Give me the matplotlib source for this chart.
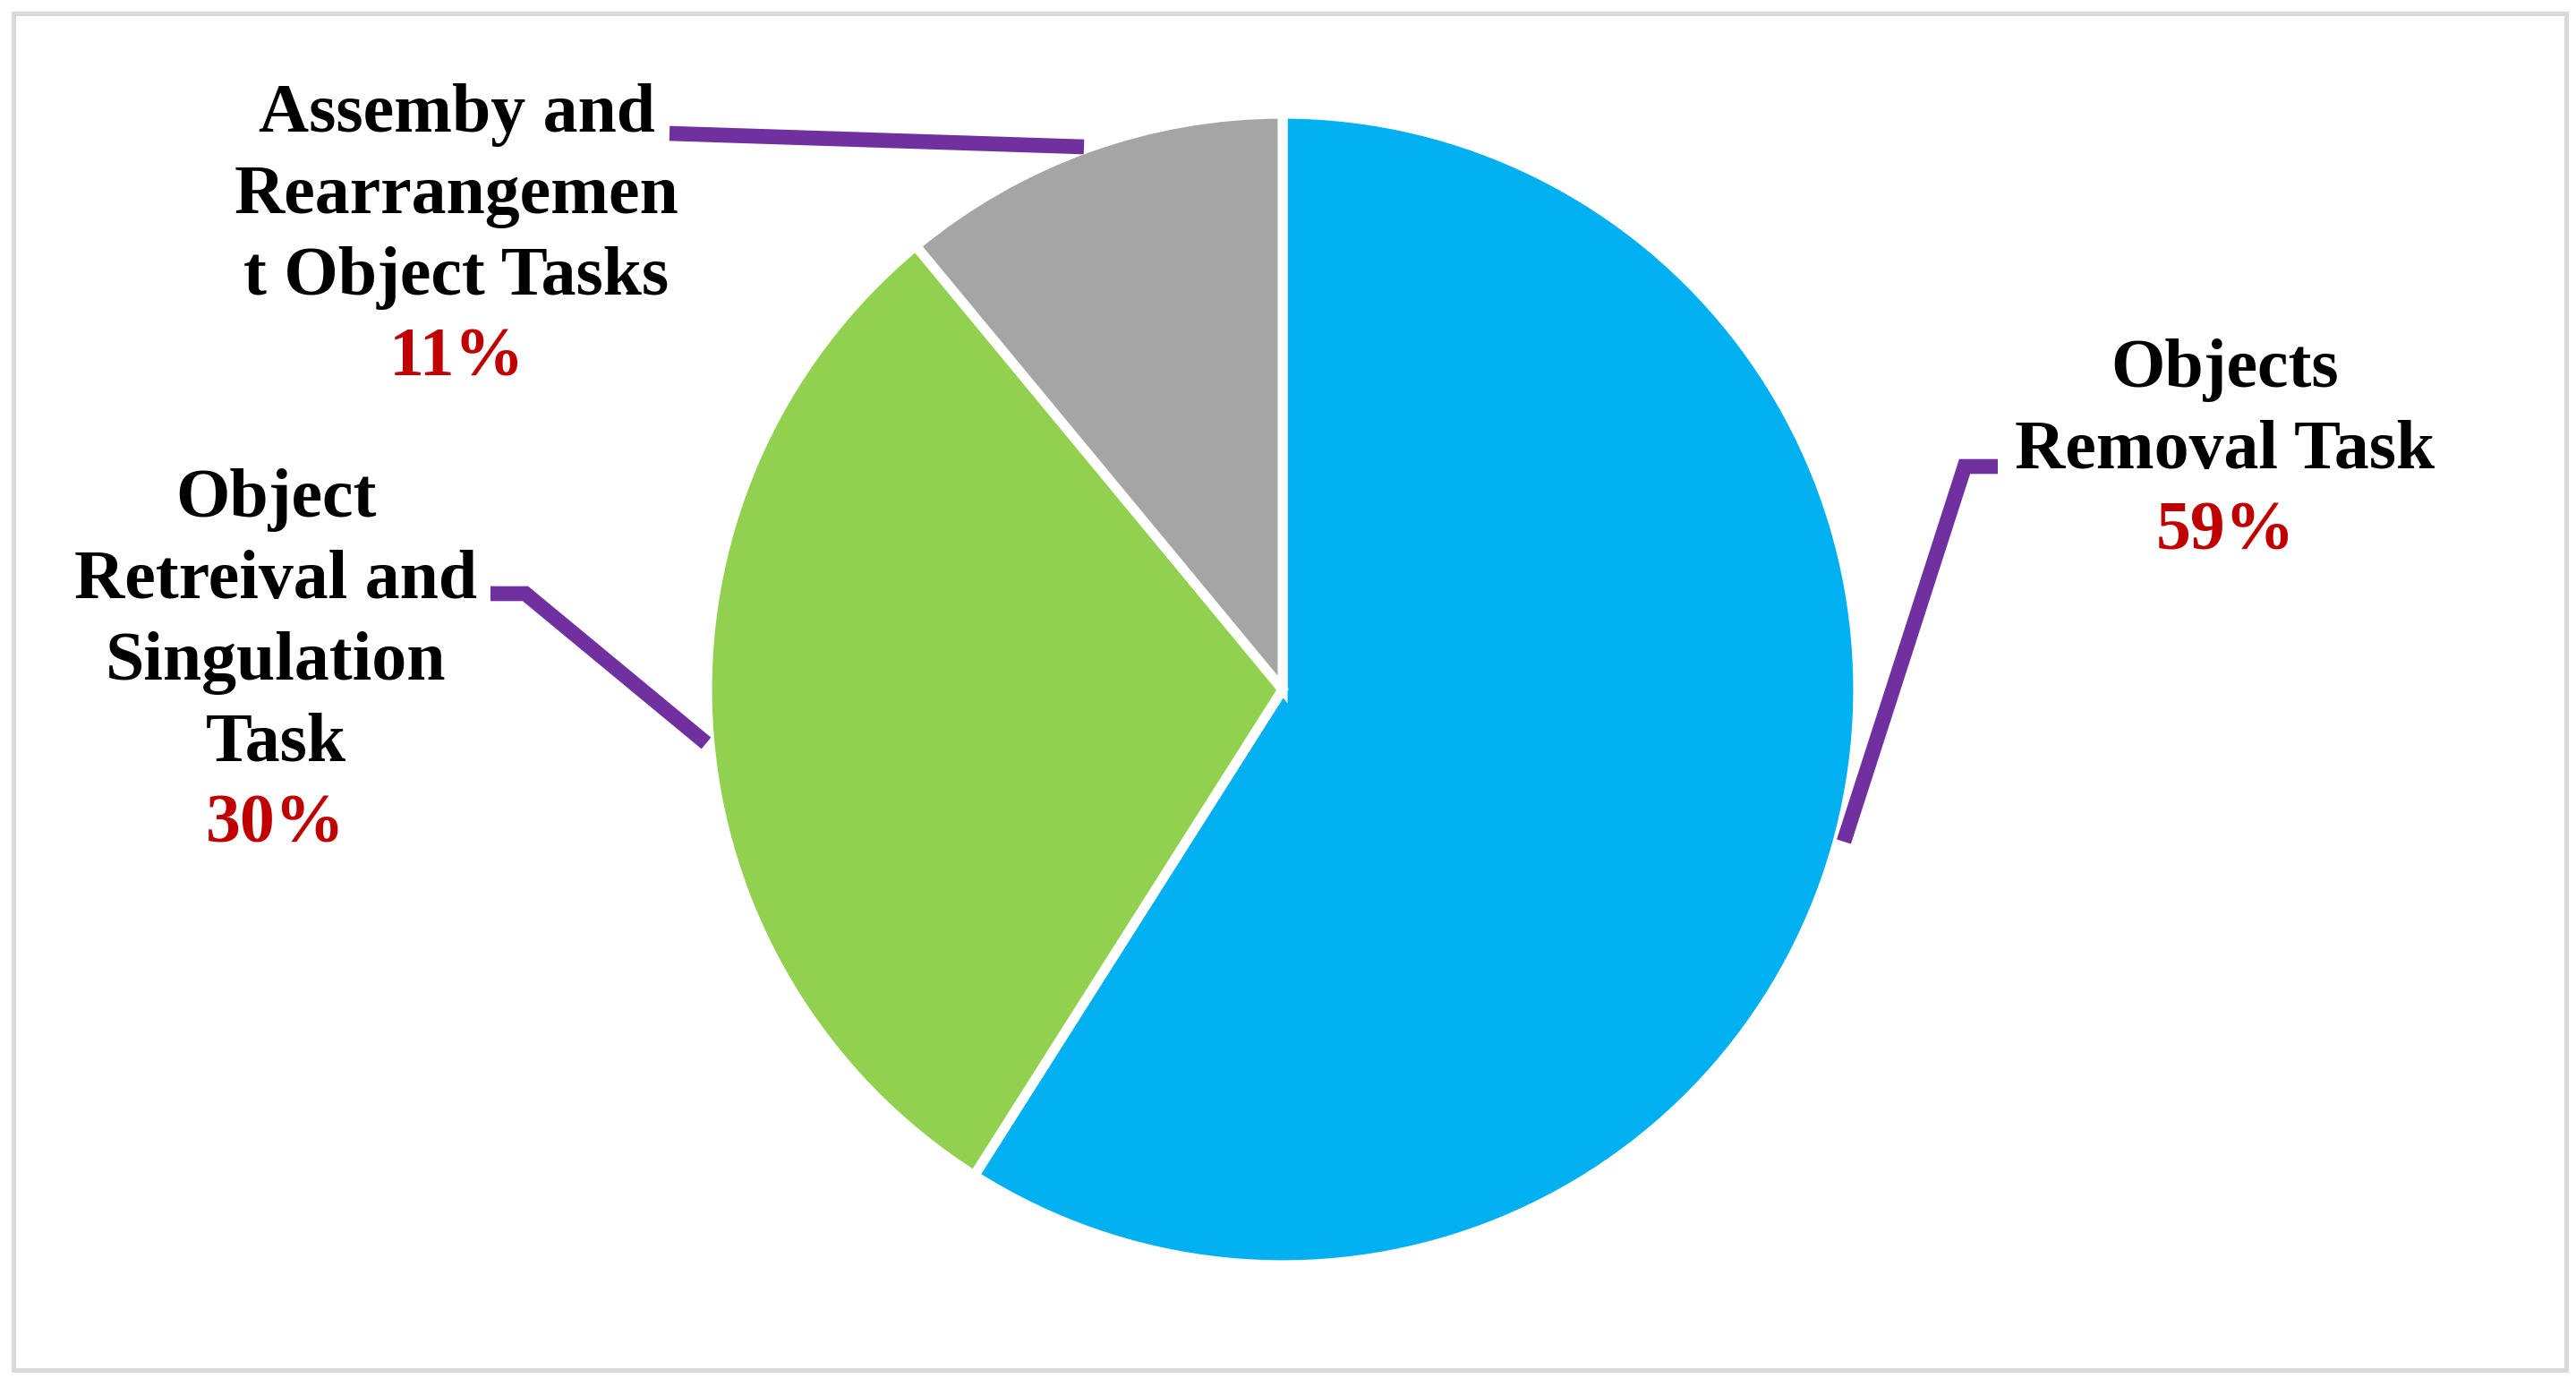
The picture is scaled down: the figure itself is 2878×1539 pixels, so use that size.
import matplotlib
matplotlib.use("Agg")
import matplotlib.pyplot as plt
from matplotlib.patches import Rectangle

# ---- data ----
categories = ["Objects\nRemoval Task",
              "Object\nRetreival and\nSingulation\nTask",
              "Assemby and\nRearrangemen\nt Object Tasks"]
values = [59, 30, 11]
pct_labels = ["59%", "30%", "11%"]
colors = ["#00B0F0", "#92D050", "#A5A5A5"]

# ---- layout (pixel space of the 2878x1539 canvas, y measured from top) ----
W, H = 2878, 1539
DPI = 100
cx, cy, R = 1433, 770, 643
label_pos = [  # (center x, first baseline y, line step)
    (2486, 432, 90.5),
    (308, 577, 90.8),
    (510, 147, 91.0),
]
leaders = [
    [(2060, 940), (2195, 521), (2232, 521)],
    [(789, 830), (587, 663), (548, 663)],
    [(1211, 164), (748, 149)],
]

fig = plt.figure(figsize=(W / DPI, H / DPI), dpi=DPI)
ax = fig.add_axes([0, 0, 1, 1])

ax.pie(values, colors=colors, startangle=90, counterclock=False,
       center=(cx, H - cy), radius=R,
       wedgeprops=dict(edgecolor="white", linewidth=8))
ax.set_xlim(0, W)
ax.set_ylim(0, H)
ax.set_aspect("auto")
ax.axis("off")

# leader lines
for pts in leaders:
    xs = [p[0] for p in pts]
    ys = [H - p[1] for p in pts]
    ax.plot(xs, ys, color="#7030A0", linewidth=12, solid_capstyle="butt",
            solid_joinstyle="miter", zorder=5)

font = dict(family="Liberation Serif", fontweight="bold", fontsize=56)
for cat, pct, (lx, ly, step) in zip(categories, pct_labels, label_pos):
    lines = cat.split("\n")
    for i, line in enumerate(lines):
        ax.text(lx, H - (ly + i * step), line, ha="center", va="baseline",
                color="black", **font)
    ax.text(lx, H - (ly + len(lines) * step), pct, ha="center",
            va="baseline", color="#C00000", **font)

# outer frame
ax.add_patch(Rectangle((14.5, H - 1530), 2852.5, 1515.5, fill=False,
                       edgecolor="#D9D9D9", linewidth=3.6, zorder=10))

fig.savefig("out.png", dpi=DPI, facecolor="white")
